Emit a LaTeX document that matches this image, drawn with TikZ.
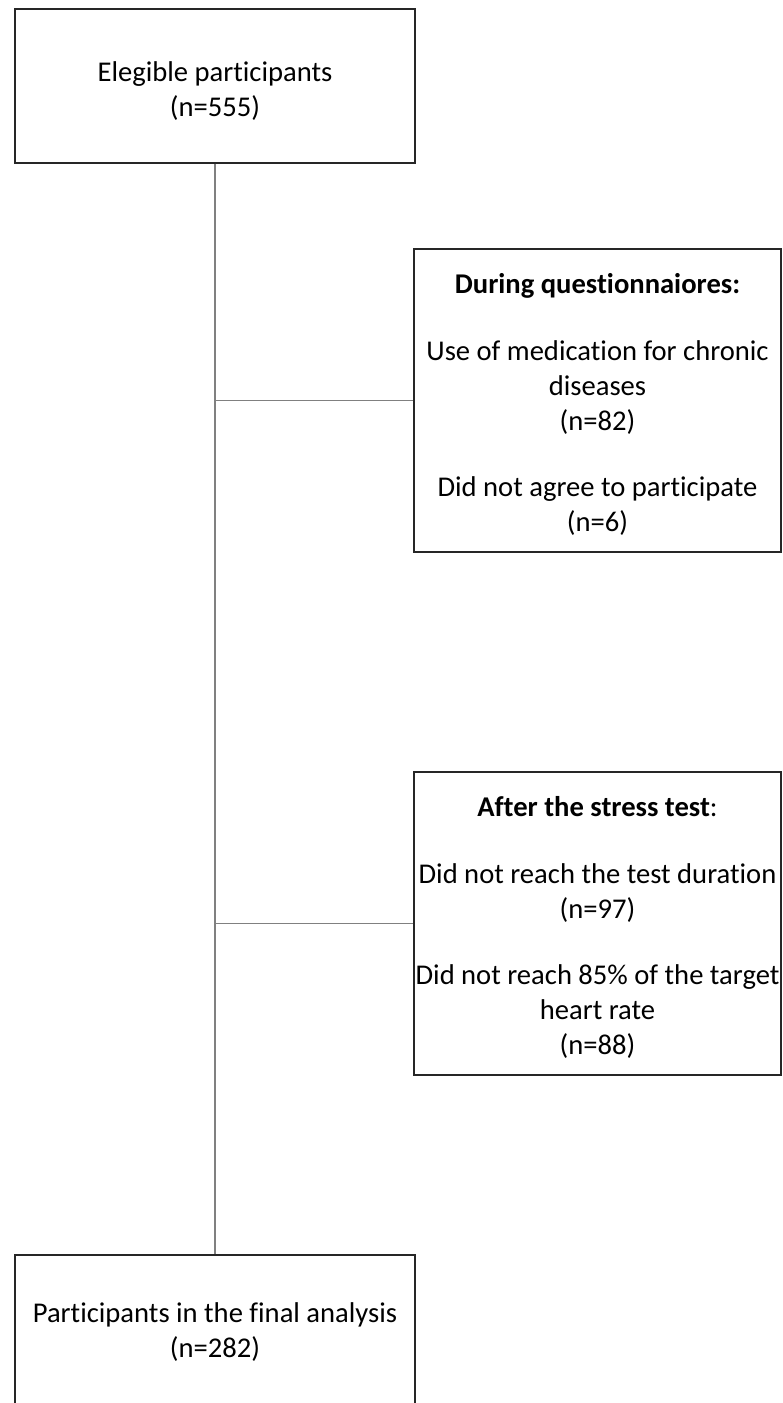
\documentclass[tikz,border=0pt]{standalone}
\usepackage{fontspec}
\setmainfont{Carlito}[Ligatures=NoCommon]
\definecolor{boxline}{HTML}{262626}
\definecolor{connline}{HTML}{808080}
\begin{document}
\begin{tikzpicture}[x=1pt,y=-1pt,
  box/.style={draw=boxline, line width=1.4pt, rectangle, inner xsep=0pt, inner ysep=0pt,
    align=center, font=\fontsize{28.6}{35}\selectfont},
  wide/.style={minimum width=400pt, minimum height=154pt},
  side/.style={minimum width=367pt, minimum height=303pt},
  conn/.style={draw=connline, line width=1.4pt}]
\useasboundingbox (0,0) rectangle (783,1403);
\clip (0,0) rectangle (783,1403);
\node[box, wide] (top) at (215,86) {\rule{0pt}{30pt}Elegible participants\\(n=555)};
\node[box, side] (quest) at (597.5,400.5) {\rule{0pt}{27pt}\textbf{During questionnaiores:}\\[32pt]Use of medication for chronic\\diseases\\(n=82)\\[31pt]Did not agree to participate\\(n=6)};
\node[box, side] (stress) at (597.5,923.5) {\rule{0pt}{28pt}\textbf{After the stress test}:\\[32pt]Did not reach the test duration\\(n=97)\\[31pt]Did not reach 85\% of the target\\heart rate\\(n=88)};
\node[box, wide] (final) at (215,1332) {Participants in the final analysis\\(n=282)};
\coordinate (j1) at (top.south |- quest.west);
\coordinate (j2) at (top.south |- stress.west);
\draw[conn] (top.south) -- (final.north);
\draw[conn] (j1) -- (quest.west);
\draw[conn] (j2) -- (stress.west);
\end{tikzpicture}
\end{document}
